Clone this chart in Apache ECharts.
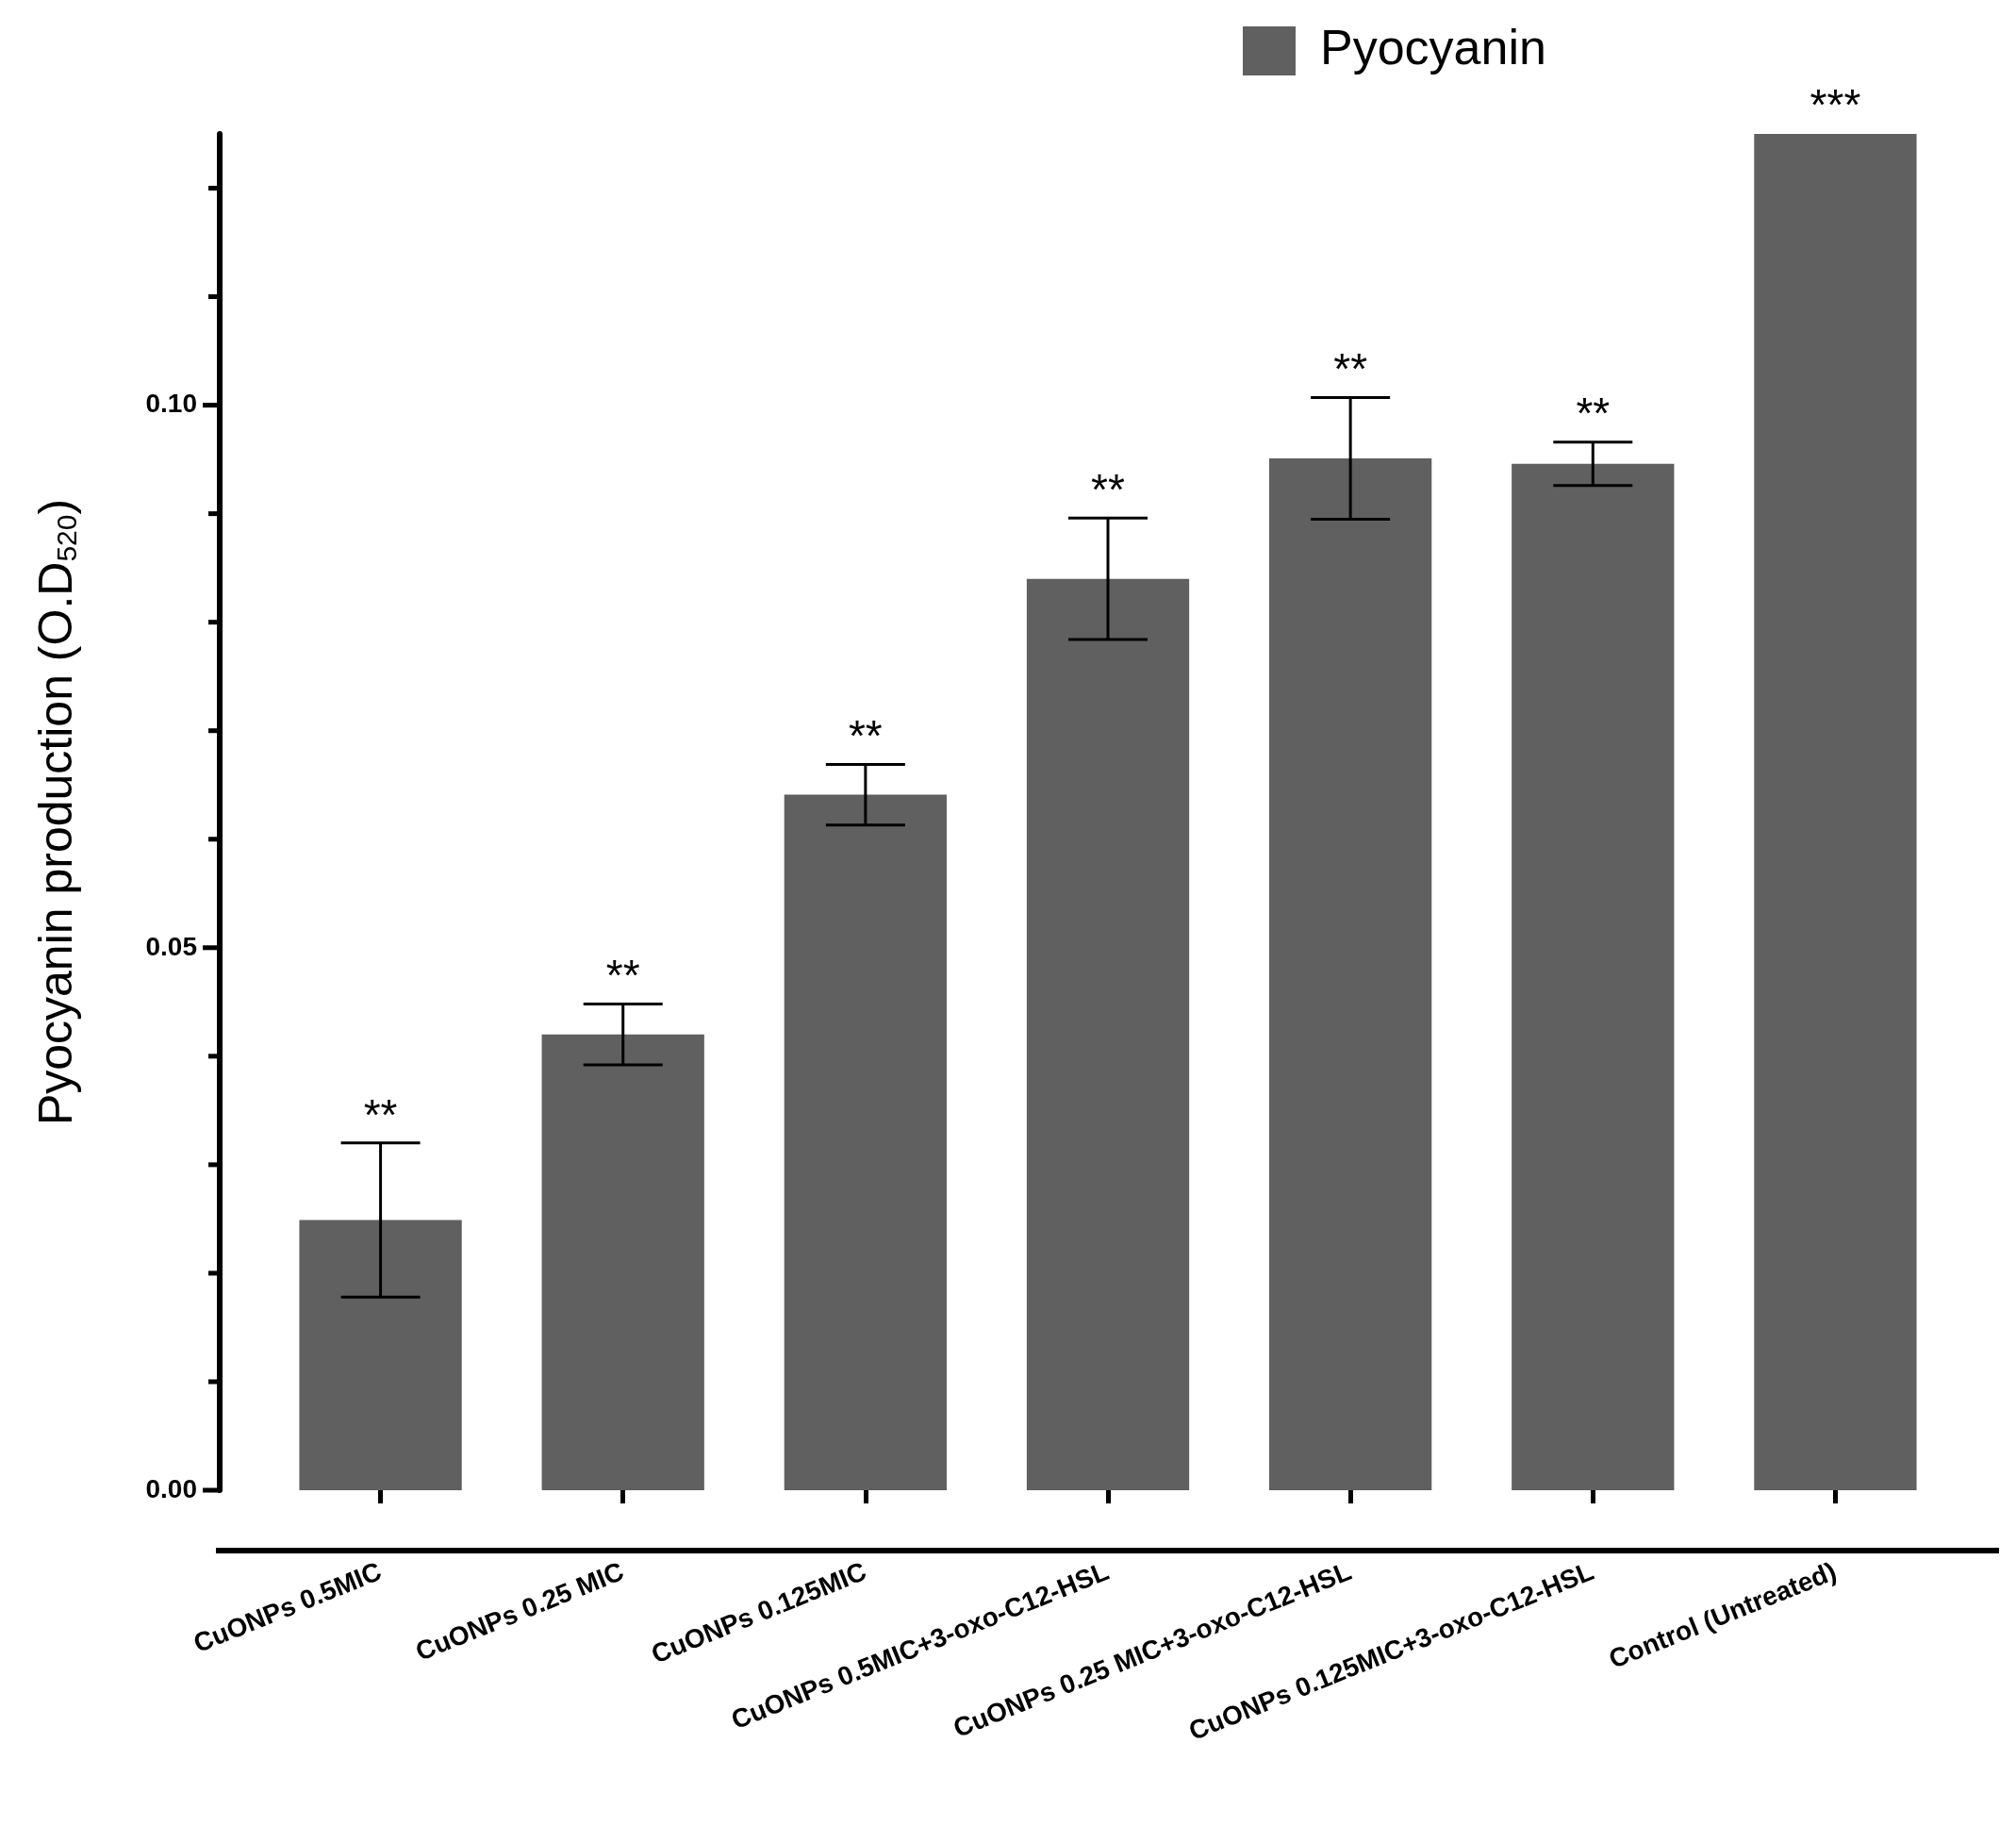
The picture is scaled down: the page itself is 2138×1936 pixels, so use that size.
<!DOCTYPE html>
<html><head><meta charset="utf-8">
<script src="https://cdn.jsdelivr.net/npm/echarts@6/dist/echarts.min.js"></script>
<style>html,body{margin:0;padding:0;background:#fff}#c{width:2138px;height:1936px}</style>
</head><body><div id="c"></div>
<script>
const categories = ["CuONPs 0.5MIC","CuONPs 0.25 MIC","CuONPs 0.125MIC","CuONPs 0.5MIC+3-oxo-C12-HSL","CuONPs 0.25 MIC+3-oxo-C12-HSL","CuONPs 0.125MIC+3-oxo-C12-HSL","Control (Untreated)"];
const values = [0.0249, 0.0420, 0.0641, 0.0840, 0.0951, 0.0946, 0.1251];
const errors = [0.0071, 0.0028, 0.0028, 0.0056, 0.0056, 0.0020, 0];
const stars = ["**","**","**","**","**","**","***"];
const yTicks = [0, 0.05, 0.10];

const chart = echarts.init(document.getElementById('c'));
const errData = values.map((v,i)=>[i, v, errors[i], stars[i]]);
chart.setOption({
  animation:false,
  grid:{left:275, right:63, top:142, bottom:356},
  legend:{show:false},
  graphic:[
    {type:'line', shape:{x1:229,y1:1644,x2:2120,y2:1644}, style:{stroke:'#000',lineWidth:6}},
    {type:'rect', shape:{x:1318,y:28,width:56,height:52}, style:{fill:'#606060'}},
    {type:'text', x:1400, y:54, style:{text:'Pyocyanin', font:'52px "Liberation Sans", Arial', fill:'#000', verticalAlign:'middle'}}
  ],
  xAxis:{type:'category', data:categories, offset:64,
    axisLine:{show:false},
    axisTick:{show:true, alignWithLabel:true, length:14, lineStyle:{color:'#000',width:5}},
    axisLabel:{rotate:22, interval:0, margin:22, fontFamily:'Liberation Sans', fontWeight:'bold', fontSize:28, color:'#000'}
  },
  yAxis:{type:'value', min:0, max:0.125, interval:0.01, offset:42,
    axisLine:{show:true, lineStyle:{color:'#000', width:6}},
    axisTick:{show:false},
    splitLine:{show:false},
    axisLabel:{show:false},
    name:'{a|Pyocyanin production (O.D}{s|520}{a|)}', nameLocation:'middle', nameGap:145, nameRotate:90,
    nameTextStyle:{rich:{a:{fontSize:50, fontFamily:'Liberation Sans', color:'#000'}, s:{fontSize:30, fontFamily:'Liberation Sans', color:'#000', verticalAlign:'bottom', padding:[22,0,0,0]}}}
  },
  series:[
    {type:'bar', data:values, barCategoryGap:'33%', itemStyle:{color:'#606060'}, z:2},
    {type:'custom', data:errData, z:3, renderItem:function(params, api){
      const i=api.value(0), v=api.value(1), e=api.value(2), s=api.value(3);
      const top=api.coord([i, v+e]), bot=api.coord([i, v-e]);
      const x=top[0], hw=42, ls={stroke:'#000', lineWidth:3};
      const ch=[];
      if(e>0){
        ch.push({type:'line', shape:{x1:x,y1:top[1],x2:x,y2:bot[1]}, style:ls});
        ch.push({type:'line', shape:{x1:x-hw,y1:top[1],x2:x+hw,y2:top[1]}, style:ls});
        ch.push({type:'line', shape:{x1:x-hw,y1:bot[1],x2:x+hw,y2:bot[1]}, style:ls});
      }
      ch.push({type:'text', x:x, y:top[1]-4, style:{text:s, font:'46px "Liberation Sans", Arial', fill:'#000', align:'center', verticalAlign:'bottom'}});
      return {type:'group', children:ch};
    }},
    // y-axis ticks and labels drawn via custom series on the value scale
    {type:'custom', data:[0,0.01,0.02,0.03,0.04,0.05,0.06,0.07,0.08,0.09,0.10,0.11,0.12].map(t=>[t]), z:4, clip:false,
      renderItem:function(params, api){
        const t=api.value(0); const p=api.coord([0,t]);
        const y=p[1], ax=233;
        const major = yTicks.some(m=>Math.abs(m-t)<1e-9);
        const ch=[{type:'line', shape:{x1:ax-(major?18:12),y1:y,x2:ax,y2:y}, style:{stroke:'#000', lineWidth:5}}];
        if(major) ch.push({type:'text', x:ax-24, y:y, style:{text:t.toFixed(2), font:'bold 28px "Liberation Sans Narrow", "Liberation Sans"', fill:'#000', align:'right', verticalAlign:'middle'}});
        return {type:'group', children:ch};
      }}
  ]
});
</script></body></html>
